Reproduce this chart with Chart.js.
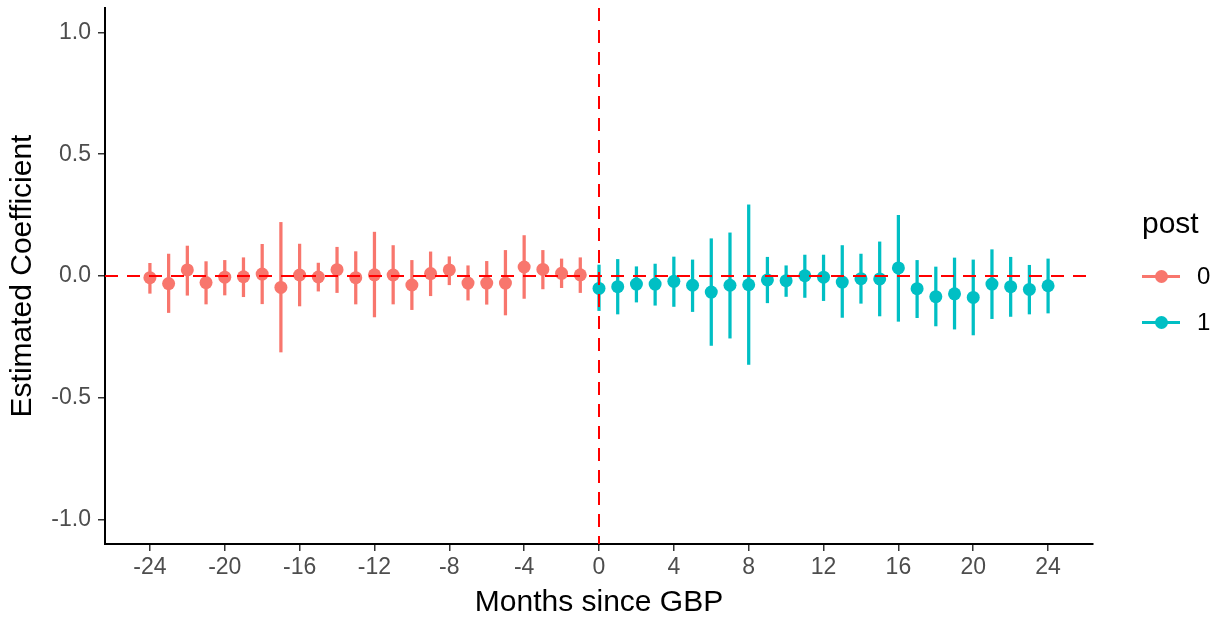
<!DOCTYPE html>
<html>
<head>
<meta charset="utf-8">
<script src="https://cdn.jsdelivr.net/npm/chart.js@4.4.1/dist/chart.umd.min.js"></script>
<style>
  body { margin: 0; background: #fff; font-family: "Liberation Sans", Arial, sans-serif; }
  #wrap { position: relative; width: 1225px; height: 617px; overflow: hidden; }
  #legend { position: absolute; left: 1142px; top: 208px; }
  #legend .title { font-size: 30px; line-height: 30px; color: #000; margin-bottom: 15px; }
  #legend .row { display: flex; align-items: center; height: 46px; }
  #legend .key { position: relative; width: 38px; height: 14px; }
  #legend .key .ln { position: absolute; left: 0; right: 0; top: 6px; height: 2.5px; }
  #legend .key .dot { position: absolute; left: 12.5px; top: 0.5px; width: 13px; height: 13px; border-radius: 50%; }
  #legend .lab { font-size: 24px; margin-left: 17px; color: #000; }
</style>
</head>
<body>
<div id="wrap">
  <canvas id="myChart" width="1225" height="617"></canvas>
  <div id="legend"></div>
</div>
<script>
const groupNames = ["0", "1"]
const groupColors = ["#F8766D", "#00BFC4"]

const preMonths = [-24, -23, -22, -21, -20, -19, -18, -17, -16, -15, -14, -13, -12, -11, -10, -9, -8, -7, -6, -5, -4, -3, -2, -1]
const preEst = [-0.007, -0.031, 0.025, -0.027, -0.005, -0.003, 0.008, -0.047, 0.004, -0.004, 0.026, -0.007, 0.005, 0.004, -0.037, 0.010, 0.025, -0.029, -0.029, -0.029, 0.037, 0.027, 0.011, 0.005]
const preLow = [-0.071, -0.150, -0.079, -0.115, -0.078, -0.085, -0.114, -0.312, -0.123, -0.062, -0.068, -0.115, -0.168, -0.115, -0.138, -0.081, -0.036, -0.099, -0.116, -0.160, -0.092, -0.053, -0.048, -0.068]
const preHigh = [0.052, 0.090, 0.123, 0.059, 0.064, 0.075, 0.130, 0.220, 0.131, 0.053, 0.118, 0.100, 0.180, 0.125, 0.064, 0.099, 0.079, 0.042, 0.060, 0.105, 0.166, 0.105, 0.070, 0.075]

const postMonths = [0, 1, 2, 3, 4, 5, 6, 7, 8, 9, 10, 11, 12, 13, 14, 15, 16, 17, 18, 19, 20, 21, 22, 23, 24]
const postEst = [-0.051, -0.044, -0.033, -0.033, -0.022, -0.038, -0.066, -0.038, -0.036, -0.016, -0.019, 0.001, -0.005, -0.025, -0.011, -0.012, 0.033, -0.052, -0.085, -0.073, -0.088, -0.033, -0.044, -0.055, -0.040]
const postLow = [-0.142, -0.156, -0.107, -0.120, -0.125, -0.146, -0.285, -0.255, -0.363, -0.110, -0.084, -0.088, -0.101, -0.170, -0.112, -0.164, -0.186, -0.171, -0.205, -0.218, -0.242, -0.175, -0.166, -0.156, -0.152]
const postHigh = [0.045, 0.068, 0.038, 0.049, 0.078, 0.066, 0.153, 0.177, 0.292, 0.077, 0.042, 0.086, 0.086, 0.125, 0.090, 0.140, 0.249, 0.064, 0.037, 0.074, 0.066, 0.108, 0.077, 0.044, 0.070]

const xTickLabels = [-24, -20, -16, -12, -8, -4, 0, 4, 8, 12, 16, 20, 24]
const yTickLabels = [-1.0, -0.5, 0.0, 0.5, 1.0]
const refX = 0
const refY = 0

const groups = [
  { months: preMonths, est: preEst, low: preLow, high: preHigh },
  { months: postMonths, est: postEst, low: postLow, high: postHigh },
]

const datasets = []
groups.forEach((g, i) => {
  datasets.push({
    type: "bar",
    label: groupNames[i] + " ci",
    data: g.months.map((m, k) => ({ x: m, y: [g.low[k], g.high[k]] })),
    backgroundColor: groupColors[i],
    barThickness: 2.6,
    grouped: false,
    order: 2,
  })
  datasets.push({
    type: "scatter",
    label: groupNames[i],
    data: g.months.map((m, k) => ({ x: m, y: g.est[k] })),
    backgroundColor: groupColors[i],
    pointRadius: 6.5,
    pointHoverRadius: 6.5,
    borderWidth: 0,
    order: 1,
  })
})

// dashed reference lines at x = 0 and y = 0, drawn over the points like ggplot
const refLines = {
  id: "refLines",
  afterDatasetsDraw(chart) {
    const { ctx, chartArea, scales } = chart
    const px = scales.x.getPixelForValue(refX)
    const py = scales.y.getPixelForValue(refY)
    ctx.save()
    ctx.strokeStyle = "#FF0000"
    ctx.lineWidth = 2
    ctx.setLineDash([13, 9])
    ctx.beginPath()
    ctx.moveTo(chartArea.left, py)
    ctx.lineTo(chartArea.right, py)
    ctx.moveTo(px, chartArea.top)
    ctx.lineTo(px, chartArea.bottom)
    ctx.stroke()
    ctx.restore()
  },
}

const tickFont = { family: "'Liberation Sans', Arial, sans-serif", size: 23 }
const titleFont = { family: "'Liberation Sans', Arial, sans-serif", size: 30 }

const config = {
  type: "scatter",
  data: { datasets: datasets },
  options: {
    responsive: false,
    animation: false,
    layout: { padding: { top: 8, right: 132, bottom: -4, left: 0 } },
    plugins: {
      legend: { display: false },
      tooltip: { enabled: false },
    },
    scales: {
      x: {
        type: "linear",
        min: -26.4,
        max: 26.4,
        offset: false,
        afterBuildTicks: (axis) => {
          axis.ticks = xTickLabels.map((v) => ({ value: v }))
        },
        afterFit: (axis) => {
          axis.height = 77
          axis.paddingLeft = 0
          axis.paddingRight = 0
        },
        ticks: { color: "#4D4D4D", font: tickFont, padding: 3, maxRotation: 0, autoSkip: false },
        grid: { drawOnChartArea: false, drawTicks: true, tickLength: 7, color: "#333333", lineWidth: 1.5, offset: false },
        border: { display: true, color: "#000000", width: 2 },
        title: { display: true, text: "Months since GBP", color: "#000000", font: titleFont, padding: { top: 0, bottom: 0 } },
      },
      y: {
        type: "linear",
        min: -1.1,
        max: 1.1,
        afterBuildTicks: (axis) => {
          axis.ticks = yTickLabels.map((v) => ({ value: v }))
        },
        afterFit: (axis) => {
          axis.width = 105
          axis.paddingTop = 0
          axis.paddingBottom = 0
        },
        ticks: {
          color: "#4D4D4D",
          font: tickFont,
          padding: 7,
          callback: (v) => Number(v).toFixed(1),
        },
        grid: { drawOnChartArea: false, drawTicks: true, tickLength: 7, color: "#333333", lineWidth: 1.5 },
        border: { display: true, color: "#000000", width: 2 },
        title: { display: true, text: "Estimated Coefficient", color: "#000000", font: titleFont, padding: { top: 5, bottom: 4 } },
      },
    },
  },
  plugins: [refLines],
}

new Chart(document.getElementById("myChart"), config)

// legend in the ggplot style: title, then a line with a dot for each group
const $legend = document.getElementById("legend")
let html = `<div class="title">post</div>`
groupNames.forEach((name, i) => {
  html += `
  <div class="row">
    <span class="key"><span class="ln" style="background:${groupColors[i]}"></span><span class="dot" style="background:${groupColors[i]}"></span></span>
    <span class="lab">${name}</span>
  </div>`
})
$legend.innerHTML = html
</script>
</body>
</html>
